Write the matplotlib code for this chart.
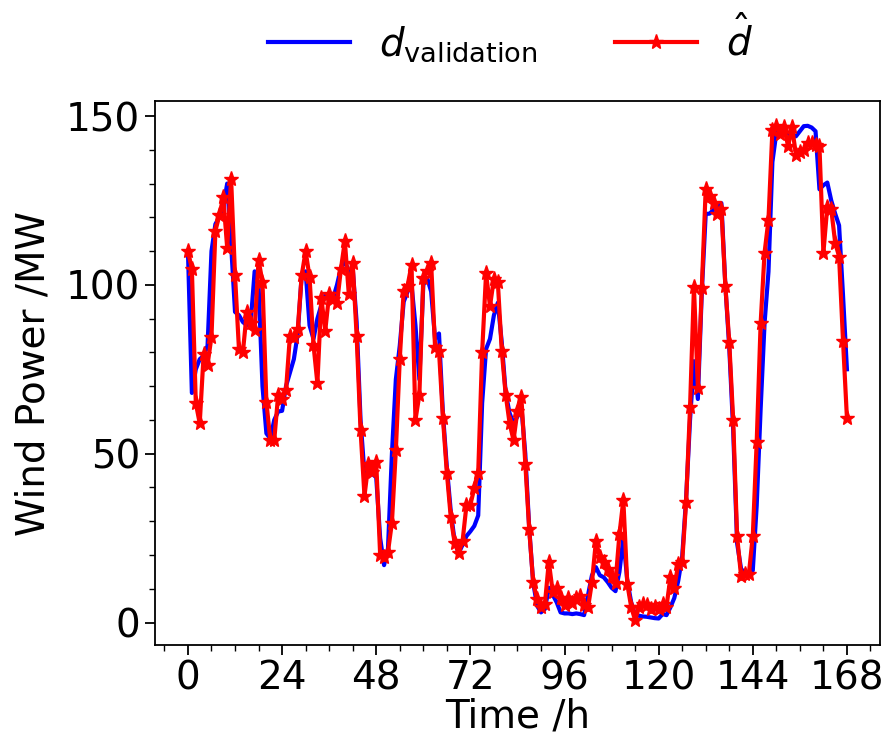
import matplotlib
matplotlib.use("Agg")
import matplotlib.pyplot as plt
from matplotlib.ticker import MultipleLocator
import numpy as np

# hourly wind power, predicted (red) and validation (blue), MW
d_hat = [110, 104.7, 65, 59, 79.5, 76.4, 84.7, 116, 120.6, 126,
         111, 131.5, 102.8, 81, 80, 92, 88.6, 86.6, 107.4, 100.8,
         65.2, 54, 54, 67.5, 66.2, 68.8, 85, 84.5, 87, 102.8,
         110, 102.3, 82.3, 70.8, 96.2, 86.4, 97.3, 95.7, 94.5, 104.7,
         113, 97.3, 106.4, 85, 57, 37.5, 47, 44.5, 47.4, 20,
         19.5, 21, 29.6, 51, 78, 98.3, 99.8, 105.9, 60, 67.5,
         102, 104, 106.4, 81.5, 80.5, 60.6, 44.4, 31.2, 23.5, 20.7,
         24, 34.7, 34.9, 39.8, 44.4, 80, 103.4, 93.7, 101.8, 100.8,
         80.5, 67.5, 59, 54, 62.7, 66.7, 46.9, 27.6, 12, 7,
         4.6, 5.5, 18, 9, 10.3, 7.3, 5.2, 7.3, 5.7, 7.3,
         7.8, 5.2, 4.5, 12, 24, 19.5, 17.9, 15.9, 13.9, 11.8,
         26.1, 36.3, 11.5, 4.6, 0.7, 4.6, 5.6, 5.1, 4.1, 4.5,
         4.1, 5.6, 4.7, 13.4, 10.3, 17.4, 17.9, 35.7, 63.7, 99.3,
         69.5, 99, 128.5, 126.2, 124.2, 121.1, 122.4, 99.8, 83, 60.1,
         25.6, 13.9, 14.5, 14.4, 25.6, 53.5, 88.6, 109.5, 119.3, 145.8,
         147.1, 144.7, 146.8, 141, 146.8, 138.6, 139.4, 140, 142, 142,
         141.5, 141, 109.5, 123.2, 122.4, 112.5, 108.4, 83.5, 60.6]

d_val = [110, 68, 75, 78, 79, 82, 110, 118, 120, 123,
         130, 112, 92, 91, 89, 88, 89, 104, 100, 70,
         56, 54.5, 60, 62.5, 62.7, 70, 74, 78, 85.6, 103,
         104, 88, 84, 90, 94, 97, 97, 96, 100, 105,
         107, 104, 105, 89, 60, 44, 45, 44, 43, 25,
         17, 22, 50, 72, 82, 95, 98, 100, 88, 72,
         100, 102, 98, 84, 85.6, 62, 46, 33, 24, 20.5,
         23, 25.6, 27, 28.6, 31.7, 65, 81, 84, 91, 94.7,
         83, 68, 62, 59, 61, 64, 50, 28, 12, 5,
         3, 4, 10.3, 8.2, 6, 3, 2.7, 2.7, 2.5, 2.7,
         2.5, 2.2, 8.2, 14, 16.4, 14, 13.4, 12, 10.3, 9.3,
         15, 25, 12.4, 6, 2.2, 2, 1.8, 1.7, 1.5, 1.3,
         1.2, 2.5, 2.2, 4.5, 7.3, 12.4, 19.5, 36.7, 60, 77.4,
         66.2, 97.8, 121, 121.1, 122.2, 123, 124.2, 100, 81.5, 57,
         23.5, 16, 14.4, 15, 15.4, 34.7, 63.2, 88.6, 103.9, 136.4,
         145, 145.5, 145.5, 145, 144, 144, 145.5, 147, 147.1, 146.6,
         145.5, 128.3, 129.5, 130.3, 125, 121.1, 117.6, 97, 75]

hours = np.arange(len(d_hat))
x_ticks = [0, 24, 48, 72, 96, 120, 144, 168]

fig = plt.figure(figsize=(8.96, 7.49), dpi=100)
ax = fig.add_axes([0.173, 0.139, 0.809, 0.726])

ax.plot(hours, d_val, color="blue", lw=3, label=r"$d_{\mathrm{validation}}$")
ax.plot(hours, d_hat, color="red", lw=3, marker="*", ms=11, label=r"$\hat{d}$")

ax.set_xticks(x_ticks)
ax.xaxis.set_minor_locator(MultipleLocator(6))
ax.yaxis.set_major_locator(MultipleLocator(50))
ax.yaxis.set_minor_locator(MultipleLocator(10))
ax.tick_params(which="major", labelsize=28, length=7, width=1.3)
ax.tick_params(which="minor", length=4, width=1)
for s in ax.spines.values():
    s.set_linewidth(1.3)

ax.set_xlabel("Time /h", fontsize=28, labelpad=0)
ax.set_ylabel("Wind Power /MW", fontsize=28, labelpad=10)

ax.legend(loc="lower center", bbox_to_anchor=(0.49, 1.025), ncol=2, frameon=False,
          fontsize=28, handlelength=2.1, handletextpad=0.75, columnspacing=2.0,
          borderaxespad=0.2)

fig.savefig("out.png", dpi=100)
